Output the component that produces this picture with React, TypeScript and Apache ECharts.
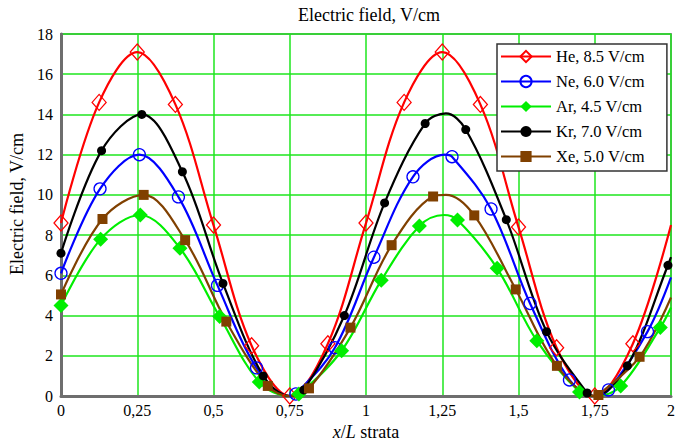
import React, { useEffect, useRef } from 'react';
import * as echarts from 'echarts';

const FONT = "'Liberation Serif', 'Times New Roman', Times, serif";
const TITLE = 'Electric field, V/cm';
const Y_NAME = 'Electric field, V/cm';
const X_NAME = '{i|x}/{i|L} strata';

const NAMES = ['He, 8.5 V/cm', 'Ne, 6.0 V/cm', 'Ar, 4.5 V/cm', 'Kr, 7.0 V/cm', 'Xe, 5.0 V/cm'];
const COLORS = ['#ff0000', '#0000ff', '#00ee00', '#000000', '#804000'];

// sampled points (with markers)
const HE_X = [0, 0.125, 0.25, 0.375, 0.5, 0.625, 0.75, 0.875, 1, 1.125, 1.25, 1.375, 1.5, 1.625, 1.75, 1.875];
const HE_Y = [8.6, 14.6, 17.1, 14.5, 8.5, 2.5, 0, 2.6, 8.6, 14.6, 17.1, 14.5, 8.4, 2.4, 0, 2.6];
const NE_X = [0, 0.128, 0.257, 0.385, 0.513, 0.641, 0.77, 0.898, 1.026, 1.154, 1.282, 1.41, 1.538, 1.667, 1.795, 1.923];
const NE_Y = [6.1, 10.3, 12.0, 9.9, 5.5, 1.4, 0.1, 2.4, 6.9, 10.9, 11.9, 9.3, 4.6, 0.8, 0.3, 3.2];
const AR_X = [0, 0.13, 0.26, 0.39, 0.52, 0.65, 0.78, 0.92, 1.05, 1.175, 1.3, 1.43, 1.56, 1.7, 1.835, 1.965];
const AR_Y = [4.5, 7.8, 9.0, 7.35, 3.95, 0.7, 0.1, 2.25, 5.75, 8.45, 8.75, 6.35, 2.75, 0.2, 0.5, 3.4];
const KR_X = [0, 0.133, 0.265, 0.398, 0.531, 0.663, 0.796, 0.929, 1.061, 1.194, 1.327, 1.46, 1.592, 1.725, 1.857, 1.99];
const KR_Y = [7.1, 12.2, 14.0, 11.15, 5.6, 1.0, 0.3, 4.0, 9.6, 13.55, 13.25, 8.77, 3.2, 0.15, 1.5, 6.5];
const XE_X = [0, 0.136, 0.271, 0.407, 0.542, 0.678, 0.813, 0.949, 1.084, 1.22, 1.355, 1.491, 1.626, 1.762, 1.897];
const XE_Y = [5.05, 8.8, 10.0, 7.75, 3.7, 0.5, 0.38, 3.4, 7.5, 9.92, 8.98, 5.3, 1.5, 0.05, 1.95];

// extra points (peaks, troughs, right edge) – no markers
const HE_LX = [2];
const HE_LY = [8.5];
const NE_LX = [0.75, 1.258, 1.75, 2];
const NE_LY = [0, 12.0, 0, 5.9];
const AR_LX = [0.75, 1.255, 1.75, 2];
const AR_LY = [0, 9.0, 0, 4.4];
const KR_LX = [0.75, 1.262, 1.75, 2];
const KR_LY = [0, 14.05, 0, 6.9];
const XE_LX = [0.75, 1.262, 1.75, 2];
const XE_LY = [0, 10.0, 0, 4.9];

function build(xs: number[], ys: number[], lx: number[], ly: number[]) {
  const pts: any[] = xs.map((x, i) => ({ value: [x, ys[i]] }));
  lx.forEach((x, i) => pts.push({ value: [x, ly[i]], symbol: 'none' }));
  pts.sort((a, b) => a.value[0] - b.value[0]);
  return pts;
}

const SERIES_DEF = [
  { xs: HE_X, ys: HE_Y, lx: HE_LX, ly: HE_LY, symbol: 'diamond', size: [14, 16], hollow: true },
  { xs: NE_X, ys: NE_Y, lx: NE_LX, ly: NE_LY, symbol: 'circle', size: 12, hollow: true },
  { xs: AR_X, ys: AR_Y, lx: AR_LX, ly: AR_LY, symbol: 'diamond', size: [15, 15], hollow: false },
  { xs: KR_X, ys: KR_Y, lx: KR_LX, ly: KR_LY, symbol: 'circle', size: 9, hollow: false },
  { xs: XE_X, ys: XE_Y, lx: XE_LX, ly: XE_LY, symbol: 'rect', size: 10, hollow: false },
];

export default function App() {
  const ref = useRef<HTMLDivElement>(null);
  useEffect(() => {
    const chart = echarts.init(ref.current!, null, { renderer: 'svg' });
    const series = SERIES_DEF.map((d, i) => ({
      name: NAMES[i],
      type: 'line',
      smooth: 0.35,
      data: build(d.xs, d.ys, d.lx, d.ly),
      symbol: d.symbol,
      symbolSize: d.size,
      showAllSymbol: true,
      clip: true,
      lineStyle: { color: COLORS[i], width: 2.2 },
      itemStyle: d.hollow
        ? { color: 'rgba(255,255,255,0)', borderColor: COLORS[i], borderWidth: 1.3 }
        : { color: COLORS[i], borderColor: COLORS[i], borderWidth: 0 },
      emphasis: { disabled: true },
    }));
    chart.setOption({
      animation: false,
      backgroundColor: '#ffffff',
      textStyle: { fontFamily: FONT },
      title: {
        text: TITLE,
        left: 369,
        top: 6,
        textAlign: 'center',
        padding: 0,
        textStyle: { fontFamily: FONT, fontSize: 18, fontWeight: 'normal', color: '#000' },
      },
      legend: {
        left: 497,
        top: 44,
        orient: 'vertical',
        itemWidth: 50,
        itemHeight: 14,
        itemGap: 8,
        padding: [4, 22, 6, 3],
        backgroundColor: '#ffffff',
        borderColor: '#333333',
        borderWidth: 1.5,
        selectedMode: false,
        textStyle: { fontFamily: FONT, fontSize: 16.5, lineHeight: 16, color: '#000' },
        data: NAMES,
      },
      grid: {
        left: 61,
        top: 34,
        width: 616,
        height: 366,
        show: true,
        borderColor: '#8a8a8a',
        borderWidth: 2,
        backgroundColor: 'transparent',
      },
      xAxis: {
        type: 'value',
        min: 0,
        max: 2,
        interval: 0.25,
        axisLine: { show: true, onZero: false, lineStyle: { color: '#6e6e6e', width: 3 } },
        axisTick: { show: false },
        axisLabel: {
          margin: 6,
          fontFamily: FONT,
          fontSize: 16,
          color: '#000',
          showMaxLabel: true,
          formatter: (v: number) => String(v).replace('.', ','),
        },
        splitLine: { show: true, lineStyle: { color: '#1ee61e', width: 1.5 } },
        name: X_NAME,
        nameLocation: 'middle',
        nameGap: 27,
        nameTextStyle: {
          fontFamily: FONT,
          fontSize: 18,
          color: '#000',
          rich: { i: { fontFamily: FONT, fontSize: 18, fontStyle: 'italic', color: '#000' } },
        },
      },
      yAxis: {
        type: 'value',
        min: 0,
        max: 18,
        interval: 2,
        axisLine: { show: true, onZero: false, lineStyle: { color: '#6e6e6e', width: 3 } },
        axisTick: { show: false },
        axisLabel: { margin: 8, fontFamily: FONT, fontSize: 16, color: '#000' },
        splitLine: { show: true, lineStyle: { color: '#1ee61e', width: 1.5 } },
        name: Y_NAME,
        nameLocation: 'middle',
        nameGap: 35,
        nameTextStyle: { fontFamily: FONT, fontSize: 18, color: '#000', padding: [0, 0, 0, 22] },
      },
      series,
    });
    return () => chart.dispose();
  }, []);
  return (
    <div
      ref={ref}
      style={{ position: 'absolute', left: 0, top: 0, width: 678, height: 446, background: '#fff' }}
    />
  );
}
